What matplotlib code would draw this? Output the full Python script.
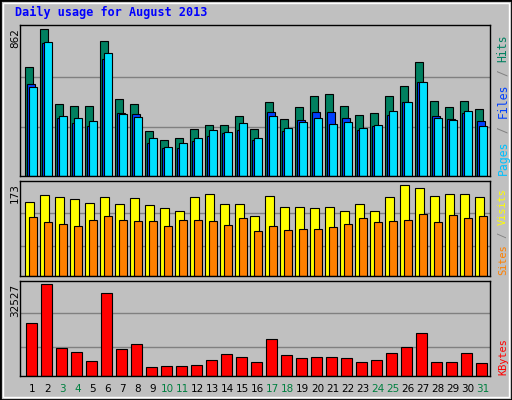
import matplotlib
matplotlib.use("Agg")
import matplotlib.pyplot as plt
from matplotlib.patches import Rectangle
import numpy as np

days = list(range(1, 32))
weekend = [3, 4, 10, 11, 17, 18, 24, 25, 31]
hits = [639,862,421,409,409,791,451,421,263,210,221,274,298,298,351,274,433,333,404,468,480,409,357,368,468,527,668,439,404,439,392]
files = [539,780,339,310,292,686,368,362,192,163,163,204,233,251,268,210,374,263,327,374,374,339,268,292,357,433,550,351,333,368,321]
pages = [521,786,351,339,321,721,362,345,221,168,192,221,268,257,310,221,351,280,315,339,304,315,280,298,380,433,550,339,327,380,292]
visits = [141,154,150,145,139,150,137,147,135,128,124,149,156,137,137,113,152,130,130,128,130,124,137,124,149,173,167,152,156,156,150]
sites = [111,103,98,94,107,113,107,105,105,94,107,107,105,96,109,85,94,88,90,90,92,98,109,103,105,107,117,103,115,109,113]
kbytes = [18636,32527,10090,8665,5460,29319,9733,11514,3324,3680,3680,4036,5816,7953,6885,5104,13294,7597,6529,6885,6885,6529,5104,5816,8309,10446,15431,5104,5104,8309,4748]

W, H = 512, 400
fig = plt.figure(figsize=(W/100, H/100), dpi=100, facecolor="#c0c0c0")
fig.patches.append(Rectangle((0, 0), 1, 1, transform=fig.transFigure, fill=False, ec="black", lw=2))
fig.patches.append(Rectangle((3/W, 3/H), 1-6/W, 1-6/H, transform=fig.transFigure, fill=False, ec="white", lw=1))

mono = "DejaVu Sans Mono"
fig.text(15/W, 1-12/H, "Daily usage for August 2013", color="#0000ff", fontsize=8.5,
         fontweight="bold", family=mono, va="center", ha="left")

X0 = 0.497
X1 = X0 + 470/15

def mkax(top, bottom):
    ax = fig.add_axes([20/W, 1-bottom/H, 470/W, (bottom-top)/H])
    ax.set_facecolor("#c0c0c0")
    ax.set_xlim(X0, X1)
    ax.set_xticks([]); ax.set_yticks([])
    for s in ax.spines.values():
        s.set_color("black"); s.set_linewidth(1)
    return ax

d = np.array(days)
kw = dict(edgecolor="black", linewidth=0.8, align="edge")

ax1 = mkax(25, 176)
ax1.set_ylim(0, 887)
for g in (584, 286):
    ax1.axhline(g, color="#808080", lw=1, zorder=0)
ax1.bar(d-0.17, hits, 0.51, color="#008060", **kw)
ax1.bar(d-0.04, files, 0.51, color="#0040ff", **kw)
ax1.bar(d+0.09, pages, 0.51, color="#00e0ff", **kw)

ax2 = mkax(181, 276)
ax2.set_ylim(0, 180)
for g in (118.5, 56.4):
    ax2.axhline(g, color="#808080", lw=1, zorder=0)
ax2.bar(d-0.17, visits, 0.57, color="#ffff00", **kw)
ax2.bar(d+0.09, sites, 0.51, color="#ff8000", **kw)

ax3 = mkax(281, 376)
ax3.set_ylim(0, 33711)
for g in (22197, 10446):
    ax3.axhline(g, color="#808080", lw=1, zorder=0)
ax3.bar(d-0.1, kbytes, 0.7, color="#ff0000", **kw)

for day in days:
    xp = 32.5 + 15*(day-1)
    fig.text(xp/W, 1-389/H, str(day), fontsize=7.5, ha="center", va="center",
             color="#008040" if day in weekend else "black")

fig.text(15/W, 1-28/H, "862", rotation=90, fontsize=7.5, ha="center", va="top")
fig.text(15/W, 1-183/H, "173", rotation=90, fontsize=7.5, ha="center", va="top")
fig.text(15/W, 1-284/H, "32527", rotation=90, fontsize=7.5, ha="center", va="top")

def rlabel(parts, ybottom, fs):
    y = ybottom
    adv = fs * 0.602 * 100/72
    for txt, col in parts:
        fig.text(503/W, 1-y/H, txt, rotation=90, fontsize=fs, family=mono,
                 color=col, ha="center", va="bottom")
        y -= len(txt) * adv + 0.5
rlabel([("Pages", "#00c0ff"), (" / ", "#808080"), ("Files", "#0040ff"), (" / ", "#808080"), ("Hits", "#008060")], 175, 8.3)
rlabel([("Sites", "#ff8000"), (" / ", "#808080"), ("Visits", "#ffff00")], 275, 7.4)
rlabel([("KBytes", "#ff0000")], 375, 7.4)

fig.savefig("out.png", dpi=100, facecolor=fig.get_facecolor())
